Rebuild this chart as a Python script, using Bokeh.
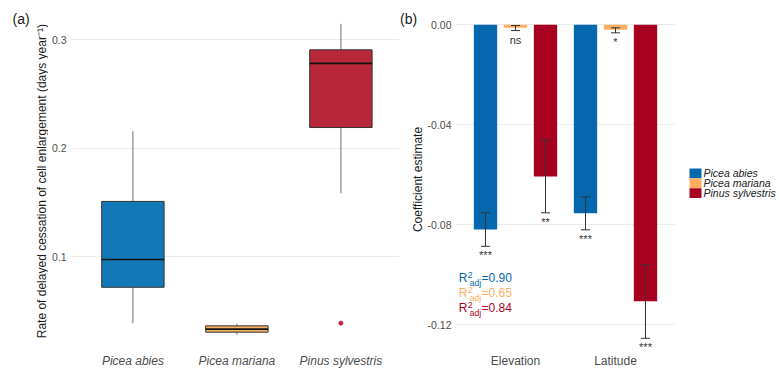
import numpy as np
from bokeh.plotting import figure
from bokeh.layouts import row
from bokeh.models import Range1d, FixedTicker, PrintfTickFormatter
from bokeh.embed import file_html
from bokeh.resources import INLINE
from bokeh.core.properties import value

FONT = "Liberation Sans"

# ---------------- data: panel (a) box plot ----------------
species = ["Picea abies", "Picea mariana", "Pinus sylvestris"]
box_low = [0.039, 0.0285, 0.1586]
box_q1 = [0.072, 0.0307, 0.219]
box_median = [0.0975, 0.0335, 0.278]
box_q3 = [0.151, 0.0365, 0.2905]
box_high = [0.2156, 0.0384, 0.3144]
outlier_species = ["Pinus sylvestris"]
outlier_value = [0.039]
a_ticks = [0.1, 0.2, 0.3]

# ---------------- data: panel (b) coefficients ----------------
predictors = ["Elevation", "Latitude"]
coef_abies = [-0.0819, -0.0754]
coef_mariana = [-0.0012, -0.0020]
coef_sylvestris = [-0.0607, -0.1106]
upper_abies = [-0.0752, -0.0688]
upper_mariana = [-0.0003, -0.0012]
upper_sylvestris = [-0.0462, -0.0960]
lower_abies = [-0.0886, -0.0820]
lower_mariana = [-0.0023, -0.0032]
lower_sylvestris = [-0.0752, -0.1254]
signif_abies = ["***", "***"]
signif_mariana = ["ns", "*"]
signif_sylvestris = ["**", "***"]
r2_adj = ["0.90", "0.65", "0.84"]
b_ticks = [0.0, -0.04, -0.08, -0.12]

box_colors = ["#1379B6", "#F5B062", "#B8283A"]
bar_colors = ["#0567AE", "#FDAE61", "#A8001F"]

H = 371
TOP = 8
FRAME_H = 342
BOTTOM = H - TOP - FRAME_H
GRID = "#EBEBEB"
TICK_TXT = "#4D4D4D"
TITLE_TXT = "#1A1A1A"


def style(p):
    p.outline_line_color = None
    p.background_fill_color = "white"
    p.border_fill_color = "white"
    p.xgrid.visible = False
    p.ygrid.grid_line_color = GRID
    p.ygrid.grid_line_width = 1
    for ax in p.axis:
        ax.axis_line_color = None
        ax.major_tick_line_color = None
        ax.minor_tick_line_color = None
        ax.major_tick_out = 0
        ax.major_tick_in = 0
        ax.axis_label_standoff = 0
        ax.major_label_text_font = FONT
        ax.major_label_text_color = TICK_TXT


def blank(width, x0):
    """Axis-less figure aligned with the panels, using page-pixel coordinates."""
    p = figure(title=None, frame_width=width, frame_height=FRAME_H,
               x_range=Range1d(x0, x0 + width), y_range=Range1d(TOP + FRAME_H, TOP),
               output_backend="svg", toolbar_location=None,
               x_axis_location=None, y_axis_location=None,
               min_border_left=0, min_border_right=0, min_border_top=TOP,
               min_border_bottom=BOTTOM)
    p.outline_line_color = None
    p.grid.visible = False
    return p


# ================= tag + y title for panel (a) =================
ta = blank(48, 0)
ta.text(x=[12], y=[10], text=["(a)"], text_font=value(FONT), text_font_size="14px",
        text_color=TITLE_TXT, text_baseline="top", text_align="left")
ta.text(x=[41], y=[TOP + FRAME_H / 2],
        text=["Rate of delayed cessation of cell enlargement (days  year\u207b\u00b9)"],
        angle=np.pi / 2, text_font=value(FONT), text_font_size="12px",
        text_color=TITLE_TXT, text_baseline="middle", text_align="center")

# ================= panel (a) =================
a_ppu = 1086.7          # pixels per unit on the y axis
a_ymax = 0.3 + (39 - TOP) / a_ppu
a_ymin = 0.3 - (TOP + FRAME_H - 39) / a_ppu
a_xmin, a_xmax = 0.4, 0.4 + 329 / 104.0
pa = figure(title=None, frame_width=329, frame_height=FRAME_H,
            x_range=Range1d(a_xmin, a_xmax), y_range=Range1d(a_ymin, a_ymax),
            output_backend="svg", toolbar_location=None,
            min_border_left=21, min_border_right=0, min_border_top=TOP,
            min_border_bottom=BOTTOM)
style(pa)
xa = np.arange(1, len(species) + 1)
half = 0.3
pa.segment(x0=xa, x1=xa, y0=box_low, y1=box_q1, line_color="#6E6E6E", line_width=1)
pa.segment(x0=xa, x1=xa, y0=box_q3, y1=box_high, line_color="#6E6E6E", line_width=1)
pa.vbar(x=xa, width=2 * half, bottom=box_q1, top=box_q3, fill_color=box_colors,
        line_color="#333333", line_width=1)
pa.segment(x0=xa - half, x1=xa + half, y0=box_median, y1=box_median,
           line_color="#111111", line_width=1.6)
ox = [species.index(s) + 1 for s in outlier_species]
oc = [box_colors[species.index(s)] for s in outlier_species]
pa.scatter(x=ox, y=outlier_value, size=4, fill_color=oc, line_color=oc)

pa.xaxis.ticker = FixedTicker(ticks=list(xa))
pa.xaxis.major_label_overrides = {int(i): s for i, s in zip(xa, species)}
pa.xaxis.major_label_text_font_style = "italic"
pa.xaxis.major_label_text_font_size = "12px"
pa.xaxis.major_label_standoff = 3
pa.yaxis.ticker = FixedTicker(ticks=a_ticks)
pa.yaxis.formatter = PrintfTickFormatter(format="%.1f")
pa.yaxis.major_label_text_font_size = "10.5px"
pa.yaxis.major_label_standoff = 4

# ================= tag + y title for panel (b) =================
tb = blank(25, 400)
tb.text(x=[400.5], y=[10], text=["(b)"], text_font=value(FONT), text_font_size="14px",
        text_color=TITLE_TXT, text_baseline="top", text_align="left")
tb.text(x=[418], y=[TOP + FRAME_H / 2], text=["Coefficient estimate"],
        angle=np.pi / 2, text_font=value(FONT), text_font_size="12px",
        text_color=TITLE_TXT, text_baseline="middle", text_align="center")

# ================= panel (b) =================
px_b = 2500.0
b_ymax = (24.3 - TOP) / px_b
b_ymin = -(TOP + FRAME_H - 24.3) / px_b
b_xmin, b_xmax = 0.4, 2.6
pb = figure(title=None, frame_width=220, frame_height=FRAME_H,
            x_range=Range1d(b_xmin, b_xmax), y_range=Range1d(b_ymin, b_ymax),
            output_backend="svg", toolbar_location=None,
            min_border_left=27, min_border_right=0, min_border_top=TOP,
            min_border_bottom=BOTTOM)
style(pb)
xb = np.arange(1, len(predictors) + 1)
coefs = [coef_abies, coef_mariana, coef_sylvestris]
uppers = [upper_abies, upper_mariana, upper_sylvestris]
lowers = [lower_abies, lower_mariana, lower_sylvestris]
signifs = [signif_abies, signif_mariana, signif_sylvestris]
dodge = 0.3
bar_w = 0.7 / 3
cap = 0.045
for i in range(len(species)):
    xx = xb + (i - 1) * dodge
    pb.vbar(x=xx, width=bar_w, top=0, bottom=coefs[i], fill_color=bar_colors[i],
            line_color=None)
for i in range(len(species)):
    xx = xb + (i - 1) * dodge
    pb.segment(x0=xx, x1=xx, y0=lowers[i], y1=uppers[i], line_color="#333333", line_width=1)
    pb.segment(x0=xx - cap, x1=xx + cap, y0=lowers[i], y1=lowers[i], line_color="#333333", line_width=1)
    pb.segment(x0=xx - cap, x1=xx + cap, y0=uppers[i], y1=uppers[i], line_color="#333333", line_width=1)
    pb.text(x=xx, y=np.array(lowers[i]) - 3 / px_b, text=signifs[i], text_align="center",
            text_baseline="top", text_font=value(FONT), text_font_size="11px",
            text_color="#333333")

pb.xaxis.ticker = FixedTicker(ticks=list(xb))
pb.xaxis.major_label_overrides = {int(i): s for i, s in zip(xb, predictors)}
pb.xaxis.major_label_text_font_size = "12px"
pb.xaxis.major_label_standoff = 3
pb.yaxis.ticker = FixedTicker(ticks=b_ticks)
pb.yaxis.formatter = PrintfTickFormatter(format="%.2f")
pb.yaxis.major_label_text_font_size = "10.5px"
pb.yaxis.major_label_standoff = 4

# R^2 adj annotations
r2_x = b_xmin + 3.3 / 100.0
r2_y0 = -(277 - 24.3) / px_b
r2_step = 15 / px_b
for i, r in enumerate(r2_adj):
    c = bar_colors[i]
    yy = r2_y0 - i * r2_step
    common = dict(text_font=value(FONT), text_color=c, text_align="left",
                  text_baseline="middle")
    pb.text(x=[r2_x], y=[yy], text=["R"], text_font_size="12px", **common)
    pb.text(x=[r2_x], y=[yy + 2.5 / px_b], x_offset=9, text=["2"],
            text_font_size="8.5px", **common)
    pb.text(x=[r2_x], y=[yy - 5.5 / px_b], x_offset=11, text=["adj"],
            text_font_size="8.5px", **common)
    pb.text(x=[r2_x], y=[yy], x_offset=22.7, text=["=" + r],
            text_font_size="12px", **common)

# ================= legend =================
pl = blank(104, 675)
leg_y = 172.8 + 9.9 * np.arange(len(species))
pl.rect(x=695, y=leg_y, width=12, height=9.8, fill_color=bar_colors, line_color=None)
pl.text(x=703, y=leg_y, text=species, text_font=value(FONT), text_font_size="10.5px",
        text_font_style="italic", text_baseline="middle", text_align="left",
        text_color="#1A1A1A")

layout = row(ta, pa, tb, pb, pl)
open("out.html", "w").write(file_html(layout, INLINE))
